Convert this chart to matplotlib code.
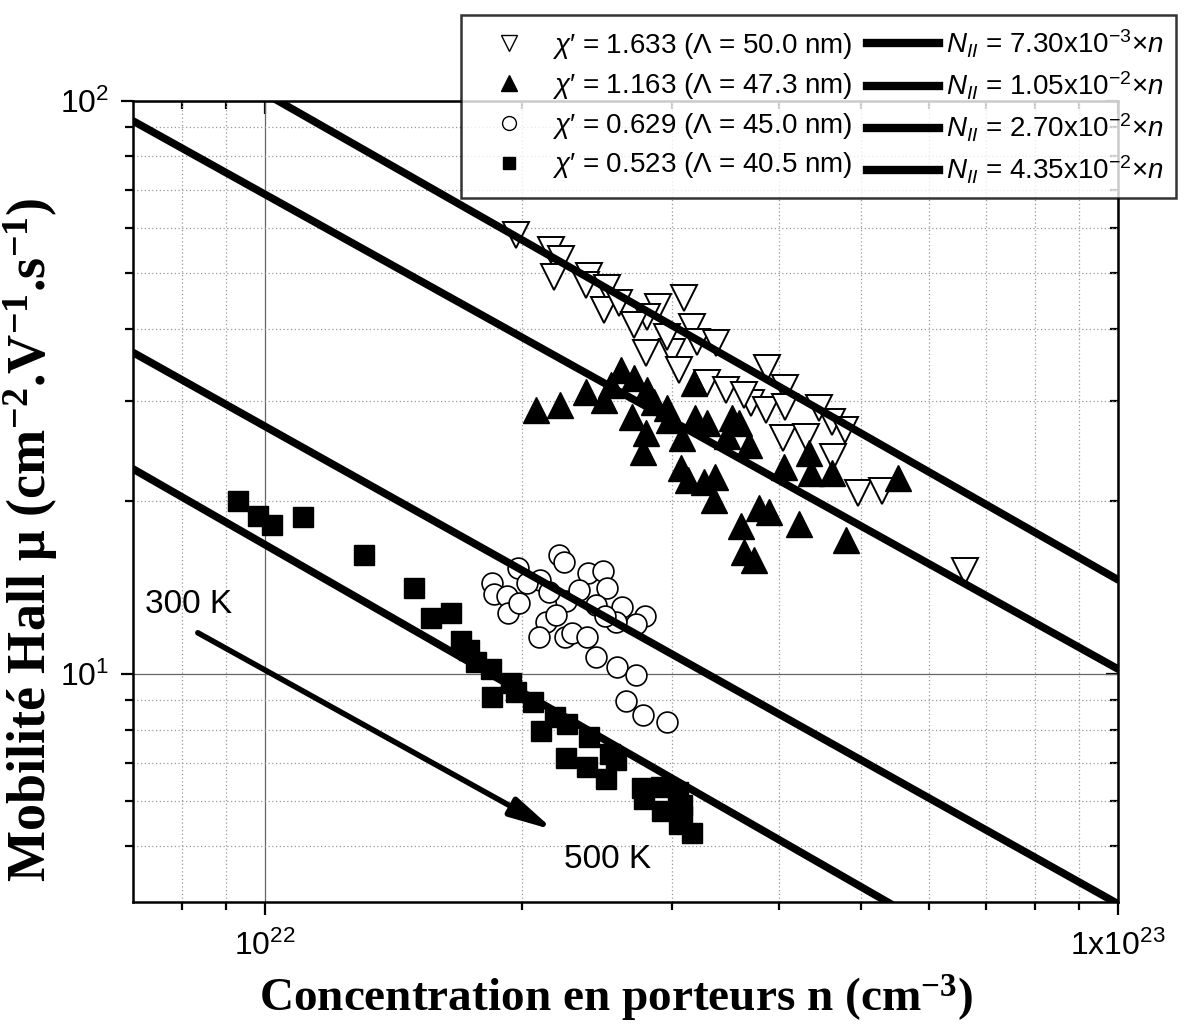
import matplotlib
matplotlib.use("Agg")
import matplotlib.pyplot as plt
from matplotlib.lines import Line2D
from matplotlib.ticker import FixedLocator, NullFormatter

plt.rcParams['font.family'] = ['Liberation Sans', 'DejaVu Sans']
plt.rcParams['mathtext.fontset'] = 'custom'
plt.rcParams['mathtext.rm'] = 'Liberation Sans'
plt.rcParams['mathtext.it'] = 'Liberation Sans:italic'
plt.rcParams['mathtext.default'] = 'regular'

# carrier concentration in units of 1e22 cm^-3, Hall mobility in cm2/V/s
n_dtri = [1.967, 2.162, 2.222, 2.180, 2.397, 2.377, 2.516, 2.496, 2.599, 2.888,
          3.099, 2.804, 2.706, 2.796, 3.000, 3.057, 3.168, 2.960, 3.211, 3.379,
          3.298, 3.471, 3.879, 4.073, 3.715, 3.868, 4.073, 4.465, 4.625, 4.791,
          4.051, 4.311, 4.638, 4.950, 5.282, 6.610, 3.645]
mu_dtri = [58.4, 54.9, 53.0, 49.3, 49.5, 47.7, 47.2, 43.2, 44.4, 43.7,
           45.3, 42.0, 40.6, 36.3, 36.5, 33.9, 40.3, 38.7, 38.0, 37.8,
           32.2, 31.3, 34.2, 31.6, 29.7, 28.9, 29.2, 29.1, 27.5, 26.7,
           25.8, 25.9, 23.9, 20.7, 20.9, 15.1, 30.7]

n_tri = [2.076, 2.215, 2.377, 2.496, 2.614, 2.706, 2.692, 2.796, 2.774, 2.857,
         2.960, 3.083, 3.193, 3.298, 3.480, 3.528, 3.184, 3.074, 3.133, 3.271,
         3.370, 3.361, 3.796, 3.901, 3.616, 3.645, 3.745, 3.596, 4.062, 4.346,
         4.369, 4.625, 5.514, 4.230, 4.804, 2.544, 2.804, 2.976, 3.695]
mu_tri = [28.9, 29.5, 31.1, 30.1, 33.9, 32.9, 28.1, 26.3, 24.4, 29.8,
          29.1, 25.8, 28.0, 27.4, 26.0, 28.0, 32.2, 22.9, 21.8, 21.6,
          22.1, 20.1, 19.5, 19.2, 18.1, 16.3, 15.8, 27.4, 23.0, 24.3,
          22.4, 22.4, 22.0, 18.3, 17.1, 31.9, 31.3, 27.8, 25.1]

n_circ = [2.210, 2.240, 2.390, 2.489, 2.516, 2.620, 2.789, 2.722, 2.578, 2.442,
          2.252, 2.133, 2.093, 2.246, 2.288, 2.384, 2.442, 2.585, 2.722, 2.649,
          2.774, 2.960, 1.844, 1.853, 1.920, 1.925, 1.978, 1.983, 2.099, 2.151,
          2.502, 2.192, 2.332, 2.026]
mu_circ = [16.1, 15.7, 15.0, 15.1, 14.1, 13.1, 12.6, 12.2, 12.3, 13.2,
           13.4, 12.3, 11.6, 11.6, 11.8, 11.6, 10.7, 10.3, 9.96, 8.97,
           8.48, 8.25, 14.4, 13.8, 13.7, 12.8, 15.3, 13.3, 14.6, 13.9,
           12.6, 12.7, 14.0, 14.4]

n_sq = [0.930, 0.981, 1.019, 1.108, 1.307, 1.496, 1.567, 1.650, 1.695, 1.732,
        1.766, 1.844, 1.839, 1.941, 1.967, 2.059, 2.104, 2.186, 2.258, 2.252,
        2.397, 2.384, 2.509, 2.536, 2.578, 2.766, 2.781, 2.912, 2.920, 3.049,
        3.083, 3.057, 3.168, 3.083]
mu_sq = [20.0, 18.9, 18.2, 18.8, 16.1, 14.1, 12.5, 12.8, 11.4, 11.0,
         10.5, 9.12, 10.2, 9.64, 9.30, 8.94, 7.95, 8.41, 8.18, 7.14,
         7.76, 6.88, 6.56, 7.25, 7.08, 6.32, 6.05, 6.35, 5.77, 6.23,
         5.91, 5.47, 5.28, 5.65]

# model curves (end points)
n_fit = [0.7, 10.0]
mu_fit = [[139.5, 14.6], [92.3, 10.2], [36.4, 3.97], [22.8, 2.35]]

labels_data = [r"$\mathit{\chi}$′ = 1.633 ($\Lambda$ = 50.0 nm)",
               r"$\mathit{\chi}$′ = 1.163 ($\Lambda$ = 47.3 nm)",
               r"$\mathit{\chi}$′ = 0.629 ($\Lambda$ = 45.0 nm)",
               r"$\mathit{\chi}$′ = 0.523 ($\Lambda$ = 40.5 nm)"]
labels_fit = [r"$\mathit{N_{II}}$ = 7.30x10$^{-3}$$\times$$\mathit{n}$",
              r"$\mathit{N_{II}}$ = 1.05x10$^{-2}$$\times$$\mathit{n}$",
              r"$\mathit{N_{II}}$ = 2.70x10$^{-2}$$\times$$\mathit{n}$",
              r"$\mathit{N_{II}}$ = 4.35x10$^{-2}$$\times$$\mathit{n}$"]


def e22(vals):
    return [v * 1e22 for v in vals]


fig = plt.figure(figsize=(11.86, 10.27), dpi=100)
ax = fig.add_axes([0.1121, 0.1217, 0.8306, 0.78])

ax.plot(e22(n_dtri), mu_dtri, 'v', ms=19, mfc='white', mec='black', mew=1.4, ls='none')
ax.plot(e22(n_tri), mu_tri, '^', ms=19, mfc='black', mec='black', ls='none')
ax.plot(e22(n_circ), mu_circ, 'o', ms=15, mfc='white', mec='black', mew=1.2, ls='none')
ax.plot(e22(n_sq), mu_sq, 's', ms=14, mfc='black', mec='black', ls='none')

for mu in mu_fit:
    ax.plot(e22(n_fit), mu, '-', color='black', lw=5.5, solid_capstyle='round', zorder=3)

ax.set_xscale('log')
ax.set_yscale('log')
ax.set_xlim(0.7e22, 1e23)
ax.set_ylim(4, 100)

xminor = [8e21, 9e21] + [k * 1e22 for k in range(2, 10)]
yminor = [5, 6, 7, 8, 9] + [k * 10 for k in range(2, 10)]
ax.xaxis.set_major_locator(FixedLocator([1e22, 1e23]))
ax.set_xticklabels(['10$^{22}$', '1x10$^{23}$'])
ax.xaxis.set_minor_locator(FixedLocator(xminor))
ax.xaxis.set_minor_formatter(NullFormatter())
ax.yaxis.set_major_locator(FixedLocator([10, 100]))
ax.set_yticklabels(['10$^{1}$', '10$^{2}$'])
ax.yaxis.set_minor_locator(FixedLocator(yminor))
ax.yaxis.set_minor_formatter(NullFormatter())

ax.grid(True, which='major', color='#666666', lw=0.9, ls='-')
ax.grid(True, which='minor', color='#999999', lw=0.9, ls=(0, (1, 2)))
ax.set_axisbelow(True)

ax.tick_params(which='major', direction='out', length=9, width=1.6, labelsize=23)
ax.tick_params(axis='x', which='major', pad=12)
ax.tick_params(axis='y', which='major', pad=8)
ax.tick_params(which='minor', direction='out', length=5.5, width=1.6)
for s in ax.spines.values():
    s.set_linewidth(1.8)

# mirrored inward ticks on top and right
top = ax.secondary_xaxis('top')
top.xaxis.set_major_locator(FixedLocator([1e22, 1e23]))
top.xaxis.set_minor_locator(FixedLocator(xminor))
top.tick_params(which='both', direction='in', labeltop=False, width=1.6)
top.tick_params(which='major', length=9)
top.tick_params(which='minor', length=5.5)
top.xaxis.set_minor_formatter(NullFormatter())
right = ax.secondary_yaxis('right')
right.yaxis.set_major_locator(FixedLocator([10, 100]))
right.yaxis.set_minor_locator(FixedLocator(yminor))
right.tick_params(which='both', direction='in', labelright=False, width=1.6)
right.tick_params(which='major', length=9)
right.tick_params(which='minor', length=5.5)
right.yaxis.set_minor_formatter(NullFormatter())

ax.set_xlabel('Concentration en porteurs n (cm$^{-3}$)', family='Liberation Serif',
              weight='bold', fontsize=34)
ax.xaxis.set_label_coords(0.49, -0.088)
ax.set_ylabel('Mobilité Hall μ (cm$^{-2}$.V$^{-1}$.s$^{-1}$)', family='Liberation Serif',
              weight='bold', fontsize=39)
ax.yaxis.set_label_coords(-0.074, 0.452)

# temperature arrow
ax.annotate('', xy=(2.18e22, 5.34), xytext=(0.834e22, 11.8),
            arrowprops=dict(arrowstyle='-|>,head_length=1.3,head_width=0.3', lw=4,
                            color='black', shrinkA=0, shrinkB=0, mutation_scale=20))
ax.text(0.723e22, 13.2, '300 K', fontsize=24, ha='left', va='center')
ax.text(2.24e22, 4.74, '500 K', fontsize=24, ha='left', va='center')

handles = [Line2D([], [], marker='v', ls='none', ms=11, mfc='white', mec='black', mew=1.0),
           Line2D([], [], marker='^', ls='none', ms=11, color='black'),
           Line2D([], [], marker='o', ls='none', ms=10, mfc='white', mec='black', mew=1.0),
           Line2D([], [], marker='s', ls='none', ms=8, color='black')]
handles += [Line2D([], [], color='black', lw=6) for _ in range(4)]
leg = fig.legend(handles, labels_data + labels_fit, ncol=2, loc='upper right',
                 bbox_to_anchor=(1.003, 0.999), fontsize=20, frameon=True, fancybox=False,
                 edgecolor='black', handlelength=2.6, handletextpad=0.25, columnspacing=0.5,
                 labelspacing=0.35, borderpad=0.45)
leg.get_frame().set_linewidth(1.8)

fig.savefig('out.png', dpi=100)
